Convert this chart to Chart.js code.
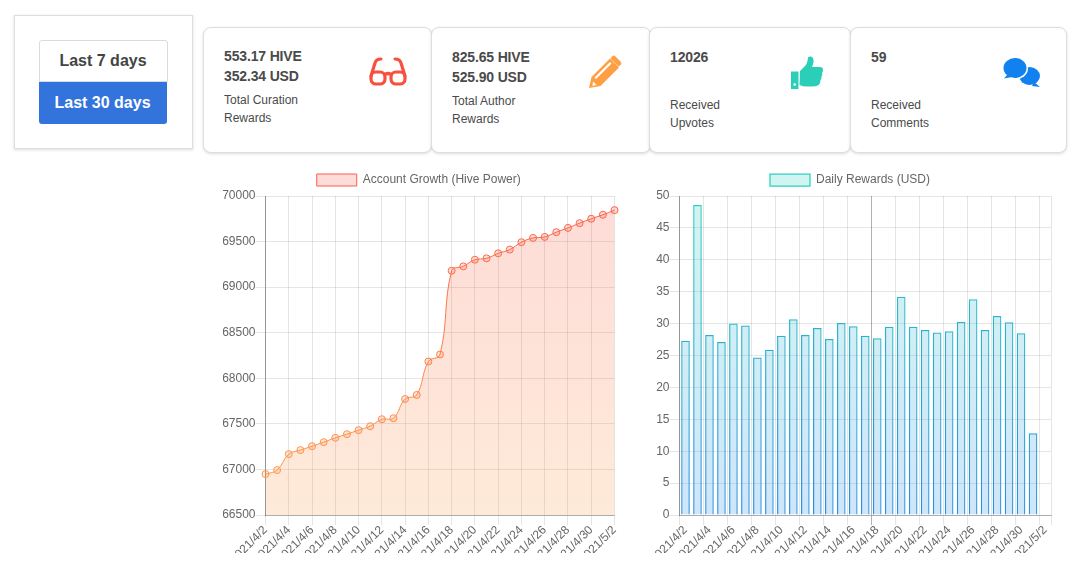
<!DOCTYPE html>
<html>
<head>
<meta charset="utf-8">
<title>Rewards</title>
<script src="https://cdn.jsdelivr.net/npm/chart.js@4"></script>
<style>
html, body { margin: 0; height: 100%; overflow: hidden; background: #fff; }
body { font-family: "Liberation Sans", Arial, sans-serif; color: #4a4a4a; position: relative; width: 1076px; height: 561px; }
.box { position: absolute; box-sizing: border-box; background: #fff; border: 1px solid #dedede; box-shadow: 0 1px 3px rgba(0,0,0,.14); }
.card { top: 27px; height: 126px; border-radius: 8px; }
.btn { position: absolute; box-sizing: border-box; text-align: center; font-weight: bold; font-size: 16px; line-height: 40px; padding-right: 1px; }
.val { position: absolute; left: 20px; font-size: 14px; font-weight: bold; line-height: 20px; white-space: nowrap; letter-spacing: -0.15px; }
.lbl { position: absolute; left: 20px; font-size: 12px; line-height: 18px; white-space: nowrap; }
svg { position: absolute; }
canvas { position: absolute; }
</style>
</head>
<body>
<div class="box" style="left:14px;top:15px;width:179px;height:134px"></div>
<div class="btn" style="left:39px;top:40px;width:129px;height:42px;border:1px solid #dbdbdb;border-radius:3px 3px 0 0;color:#444">Last 7 days</div>
<div class="btn" style="left:39px;top:82px;width:128px;height:42px;line-height:42px;background:#3273dc;border-radius:0 0 3px 3px;color:#fff">Last 30 days</div>

<div class="box card" style="left:203px;width:229px">
  <div class="val" style="top:18px">553.17 HIVE<br>352.34 USD</div>
  <div class="lbl" style="top:63px">Total Curation<br>Rewards</div>
  <svg style="left:165px;top:29px" width="38" height="29" viewBox="0 0 38 29">
    <g fill="none" stroke="#f7503f" stroke-width="3.2" stroke-linecap="round">
      <rect x="2" y="15" width="14" height="12" rx="5"/>
      <rect x="22" y="15" width="14" height="12" rx="5"/>
      <path d="M16 17.5q3-2 6 0"/>
      <path d="M2 19L6 6q1-4 6-4"/>
      <path d="M36 19L32 6q-1-4-6-4"/>
    </g>
  </svg>
</div>
<div class="box card" style="left:431px;width:220px">
  <div class="val" style="top:19px">825.65 HIVE<br>525.90 USD</div>
  <div class="lbl" style="top:64px">Total Author<br>Rewards</div>
  <svg style="left:157px;top:27px" width="34" height="34" viewBox="0 0 34 34">
    <path fill="#ff9f43" d="M0 33L2.500 22 21 3.500l9 9L11.500 31zM23 1.500q1.500-1.500 3-.5l6 6q1 1.500-.5 3L29.500 11.500l-8-8z"/>
    <path fill="#fff" d="M5.500 22.500L21 7l1.500 1.500L7 24zM4 26.500l3.500 3.500-4 1z"/>
  </svg>
</div>
<div class="box card" style="left:649px;width:202px">
  <div class="val" style="top:19px">12026</div>
  <div class="lbl" style="top:68px">Received<br>Upvotes</div>
  <svg style="left:141px;top:28px" width="33" height="33" viewBox="0 0 33 33">
    <path fill="#2bcfb8" d="M0 15.500h7.500V33H0zM9 15l5-5q2-2 2.500-5L17 1.500q1-1.500 3-1 3 1 2.500 5.500-.5 3-1.500 5h8q3 0 3 3 0 2-1 3 1 2-.5 3.500.5 2-1 3.500 0 5-4 6-2 .5-9 .5-5 0-8-1.500z"/>
    <circle cx="3.700" cy="28.500" r="1.300" fill="#fff"/>
  </svg>
</div>
<div class="box card" style="left:850px;width:217px">
  <div class="val" style="top:19px">59</div>
  <div class="lbl" style="top:68px">Received<br>Comments</div>
  <svg style="left:152px;top:30px" width="38" height="29" viewBox="0 0 38 29">
    <ellipse cx="26.500" cy="18" rx="10.500" ry="9" fill="#1281f0"/>
    <path fill="#1281f0" d="M31 24l6 5-8-1z"/>
    <ellipse cx="12" cy="10.500" rx="13" ry="11" fill="#fff"/>
    <ellipse cx="12" cy="10" rx="11.500" ry="10" fill="#1281f0"/>
    <path fill="#1281f0" d="M5 16L1 20.500 9 19z"/>
  </svg>
</div>

<canvas id="growthChart" width="399" height="389" style="left:223px;top:164px"></canvas>
<canvas id="rewardsChart" width="409" height="389" style="left:649px;top:164px"></canvas>

<script>
const dates = ['2021/4/2','2021/4/3','2021/4/4','2021/4/5','2021/4/6','2021/4/7','2021/4/8','2021/4/9','2021/4/10','2021/4/11','2021/4/12','2021/4/13','2021/4/14','2021/4/15','2021/4/16','2021/4/17','2021/4/18','2021/4/19','2021/4/20','2021/4/21','2021/4/22','2021/4/23','2021/4/24','2021/4/25','2021/4/26','2021/4/27','2021/4/28','2021/4/29','2021/4/30','2021/5/1','2021/5/2']

const hivePower = [66949,66993,67168,67212,67255,67299,67347,67387,67431,67474,67551,67562,67773,67817,68184,68261,69180,69228,69301,69316,69371,69412,69493,69540,69551,69603,69650,69702,69750,69794,69845]

const dailyRewards = [27.3,48.6,28.2,27.1,30,29.7,24.7,25.9,28.1,30.7,28.2,29.3,27.6,30.1,29.6,28.1,27.7,29.5,34.2,29.5,29,28.6,28.8,30.3,33.8,29,31.2,30.2,28.5,12.8,null]

const growthLegend = 'Account Growth (Hive Power)'
const rewardsLegend = 'Daily Rewards (USD)'

Chart.defaults.font.family = '"Liberation Sans", Arial, sans-serif'
Chart.defaults.font.size = 12
Chart.defaults.color = '#666'
Chart.defaults.animation = false

const plotTop = 32
const plotBottom = 351
const gridColor = 'rgba(0,0,0,0.1)'

function gradient(canvas, top, bottom){
    const g = canvas.getContext('2d').createLinearGradient(0, plotTop, 0, plotBottom)
    g.addColorStop(0, top)
    g.addColorStop(1, bottom)
    return g
}

//afasta o grafico da legenda e fixa as margens dos eixos
const legendGap = {
    id: 'legendGap',
    beforeInit(chart){
        const fit = chart.legend.fit
        chart.legend.fit = function(){
            fit.call(this)
            this.height = plotTop
        }
    }
}

//mostra so uma data a cada duas, sem perder a posicao de cada categoria
function xGridColor(ctx){
    if(ctx.index % 2) return 'rgba(0,0,0,0)'
    return gridColor
}

function axisOptions(yWidth, xColor, yTicks){
    return {
        x: {
            afterFit(axis){
                axis.height = 38
                axis.paddingLeft = 0
                axis.paddingRight = 0
            },
            grid: { color: xColor, tickLength: 10 },
            border: { color: 'rgba(0,0,0,0.25)' },
            ticks: {
                autoSkip: false,
                minRotation: 45,
                maxRotation: 45,
                padding: -2,
                callback(value, index){
                    return index % 2 ? '' : this.getLabelForValue(value)
                }
            }
        },
        y: Object.assign({
            afterFit(axis){ axis.width = yWidth },
            grid: { color: gridColor, tickLength: 10 },
            border: { color: 'rgba(0,0,0,0.35)' }
        }, yTicks)
    }
}

const growthCanvas = document.querySelector('canvas#growthChart')
const growthStroke = gradient(growthCanvas, '#fb5f4c', '#ffa24d')
const growthFill = gradient(growthCanvas, 'rgba(250,95,75,0.22)', 'rgba(250,160,80,0.22)')

new Chart(growthCanvas, {
    type: 'line',
    data: {
        labels: dates,
        datasets: [{
            label: growthLegend,
            data: hivePower,
            borderColor: growthStroke,
            backgroundColor: growthFill,
            borderWidth: 1,
            fill: true,
            tension: 0.4,
            pointRadius: 3.5,
            pointBorderWidth: 1,
            pointBorderColor: growthStroke,
            pointBackgroundColor: growthFill
        }]
    },
    options: {
        responsive: false,
        layout: { padding: { right: 7.5 } },
        plugins: {
            legend: { labels: { boxWidth: 40, boxHeight: 12 } },
            tooltip: { enabled: false }
        },
        scales: axisOptions(42.5, xGridColor, {
            min: 66500,
            max: 70000,
            ticks: { stepSize: 500, padding: 0, callback: value => String(value) }
        })
    },
    plugins: [legendGap]
})

const rewardsCanvas = document.querySelector('canvas#rewardsChart')
const rewardsStroke = gradient(rewardsCanvas, '#2bd0bf', '#2a8ee0')
const rewardsFill = gradient(rewardsCanvas, 'rgba(43,208,191,0.22)', 'rgba(33,140,235,0.22)')

new Chart(rewardsCanvas, {
    type: 'bar',
    data: {
        labels: dates,
        datasets: [{
            label: rewardsLegend,
            data: dailyRewards,
            borderColor: rewardsStroke,
            backgroundColor: rewardsFill,
            borderWidth: 1.25
        }]
    },
    options: {
        responsive: false,
        layout: { padding: { right: 7 } },
        plugins: {
            legend: { labels: { boxWidth: 40, boxHeight: 12 } },
            tooltip: { enabled: false }
        },
        scales: axisOptions(30.5, ctx => {
            //a linha de 4/18 aparece mais escura no original
            if(ctx.tick && ctx.tick.value === 16) return 'rgba(0,0,0,0.3)'
            return xGridColor(ctx)
        }, {
            min: 0,
            max: 50,
            ticks: { stepSize: 5, padding: 0 }
        })
    },
    plugins: [legendGap]
})
</script>
</body>
</html>
